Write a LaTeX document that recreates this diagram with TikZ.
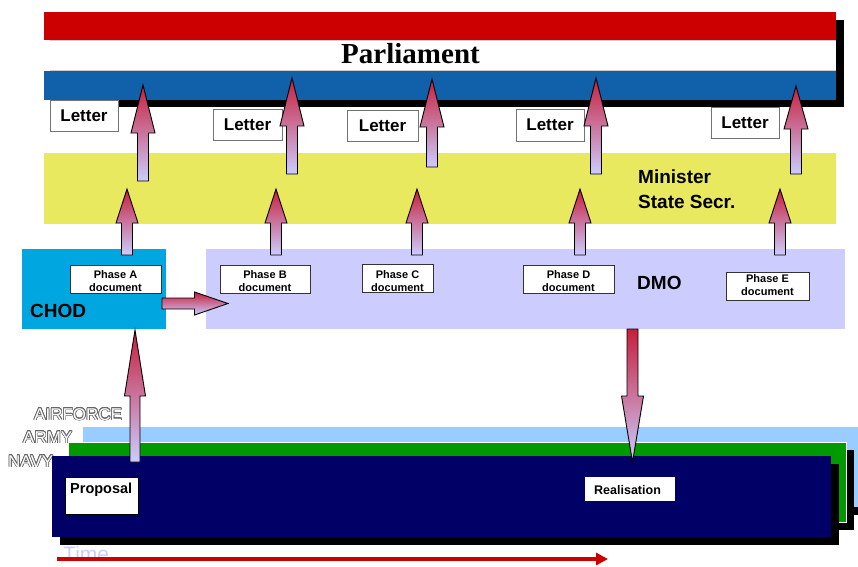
\documentclass[tikz,border=0pt]{standalone}
\usepackage{fontspec}
\setmainfont{Liberation Sans}
\newfontfamily\timesfont{Liberation Serif}
\usepackage{contour}
\contourlength{0.7pt}
\usetikzlibrary{arrows.meta}

\definecolor{parlred}{RGB}{204,0,0}
\definecolor{parlblue}{RGB}{16,96,170}
\definecolor{minyellow}{RGB}{233,233,96}
\definecolor{chodblue}{RGB}{0,166,224}
\definecolor{dmolav}{RGB}{204,204,255}
\definecolor{airblue}{RGB}{153,204,255}
\definecolor{armygreen}{RGB}{0,153,0}
\definecolor{navyblue}{RGB}{0,0,102}
\definecolor{arrowred}{RGB}{200,30,60}
\definecolor{arrowlav}{RGB}{204,204,255}
\definecolor{timered}{RGB}{204,0,0}

\newcommand\fs[1]{\fontsize{#1}{#1}\selectfont}

% vertical block arrow: x, tail y, head base y, tip y, shaft half width, head half width
\newcommand\vblockarrow[6]{%
  \shade[blockarrow] (#1-#5,#2) -- (#1-#5,#3) -- (#1-#6,#3) -- (#1,#4)
    -- (#1+#6,#3) -- (#1+#5,#3) -- (#1+#5,#2) -- cycle;}
% horizontal block arrow: y, tail x, head base x, tip x, shaft half width, head half width
\newcommand\hblockarrow[6]{%
  \shade[blockarrow] (#2,#1-#5) -- (#3,#1-#5) -- (#3,#1-#6) -- (#4,#1)
    -- (#3,#1+#6) -- (#3,#1+#5) -- (#2,#1+#5) -- cycle;}

\begin{document}
\begin{tikzpicture}[x=1pt,y=-1pt,
  blockarrow/.style={top color=arrowred, bottom color=arrowlav, draw=black,
    line width=0.9pt, line join=miter},
  letterbox/.style={draw=black!55, fill=white, line width=0.9pt, inner sep=0pt,
    font=\bfseries\fs{17}},
  phasebox/.style={draw=black!80, fill=white, line width=0.8pt, inner sep=0pt},
  phasetext/.style={font=\bfseries\fontsize{11}{13}\selectfont, align=center, inner sep=0pt},
  bigtext/.style={font=\bfseries\fs{19}, inner sep=0pt, anchor=base west},
  servicetext/.style={font=\fs{17}, text=white, inner sep=0pt, anchor=base west}]

\useasboundingbox (0,0) rectangle (858,566);
\fill[white] (0,0) rectangle (858,566);

% ---- Parliament band with drop shadow
\fill[black] (52,20) rectangle (844,107);
\fill[parlred] (44,12) rectangle (836,40);
\fill[white] (50,40) rectangle (836,71);
\draw[black!20, line width=0.7pt] (50,40.4) -- (836,40.4) (50,70.6) -- (836,70.6);
\fill[parlblue] (44,71) rectangle (836,99.5);
\node[font=\timesfont\bfseries\fs{29}, inner sep=0pt, anchor=base] (parl) at (410.5,63) {Parliament};

% ---- Letters to parliament
\node[letterbox, minimum width=68, minimum height=31] (l1) at (84,115.5) {Letter};
\node[letterbox, minimum width=69, minimum height=31] (l2) at (247.5,124.5) {Letter};
\node[letterbox, minimum width=71, minimum height=31] (l3) at (382.5,125.5) {Letter};
\node[letterbox, minimum width=68, minimum height=32] (l4) at (550,125) {Letter};
\node[letterbox, minimum width=68, minimum height=31] (l5) at (745,122.5) {Letter};

% ---- Minister band
\fill[minyellow] (44,153) rectangle (836,224);
\node[bigtext] (min1) at (638,183) {Minister};
\node[bigtext] (min2) at (638,208) {State Secr.};

% ---- CHOD and DMO
\fill[chodblue] (22,249) rectangle (166,328.5);
\fill[dmolav] (206,249) rectangle (845,328.5);
\node[bigtext] (chod) at (30,317) {CHOD};
\node[bigtext] (dmo) at (637,289) {DMO};

% ---- phase documents
\node[phasebox, minimum width=91, minimum height=28] (pa) at (115.5,279) {};
\node[phasebox, minimum width=90, minimum height=28] (pb) at (265,279) {};
\node[phasebox, minimum width=71, minimum height=28] (pc) at (397.5,278) {};
\node[phasebox, minimum width=91, minimum height=28] (pd) at (568.5,279) {};
\node[phasebox, minimum width=83, minimum height=28] (pe) at (767.5,286) {};
\node[phasetext] (ta) at (115.5,281.5) {Phase A\\document};
\node[phasetext] (tb) at (265,281.5) {Phase B\\document};
\node[phasetext] (tc) at (397.5,281) {Phase C\\document};
\node[phasetext] (td) at (568.5,281.5) {Phase D\\document};
\node[phasetext] (te) at (767.5,285.5) {Phase E\\document};

% ---- arrows from the phases to the minister
\vblockarrow{127}{255}{223}{189}{5.5}{11}
\vblockarrow{276}{255}{223}{189}{5.5}{11}
\vblockarrow{417}{255}{223}{189}{5.5}{11}
\vblockarrow{580}{255}{223}{189}{5.5}{11}
\vblockarrow{780}{255}{223}{189}{5.5}{11}

% ---- arrows from the minister to parliament
\vblockarrow{143}{181}{133}{85}{5.5}{12}
\vblockarrow{292}{174}{126}{78}{5.5}{12}
\vblockarrow{432}{167}{127}{79}{5.5}{12}
\vblockarrow{596}{174}{126}{78}{5.5}{12}
\vblockarrow{796}{174}{129}{86}{5.5}{12}

% ---- CHOD hands over to DMO
\hblockarrow{303.5}{162}{194.5}{228}{5.5}{11.5}

% ---- services
\node[servicetext] (airforce) at (34,420) {\contour{black!60}{AIRFORCE}};
\node[servicetext] (army) at (23,443) {\contour{black!60}{ARMY}};
\node[servicetext] (navy) at (8,467) {\contour{black!60}{NAVY}};

\fill[black] (91,435) rectangle (866,515);
\fill[airblue] (83,427) rectangle (866,507);
\fill[black] (76,450) rectangle (853.5,529.5);
\filldraw[fill=armygreen, draw=white, line width=0.8pt] (68,442) rectangle (846,522);
\fill[black] (60,464) rectangle (839,544.5);
\fill[navyblue] (52,456) rectangle (831,537);

% ---- proposal up, realisation down
\vblockarrow{135}{462}{396}{330}{5}{10.5}
\vblockarrow{632.5}{329}{396}{462}{5.5}{11}

\node[draw=black, fill=white, line width=0.9pt, minimum width=73, minimum height=37,
  inner sep=0pt] (prop) at (101.5,495.5) {};
\node[font=\bfseries\fs{14.5}, inner sep=0pt, anchor=base west] (proptext) at (70,493) {Proposal};
\node[fill=white, minimum width=90, minimum height=24, inner sep=0pt] (real) at (630,489) {};
\node[font=\bfseries\fs{12.5}, inner sep=0pt, anchor=base west] (realtext) at (594,494) {Realisation};

% ---- time axis
\coordinate (tstart) at (57,559);
\coordinate (tend) at (608,559);
\node[font=\fs{21}, text=dmolav, inner sep=0pt, anchor=base west] (time) at (63,561) {Time};
\draw[timered, line width=3.5pt, -{Triangle[length=12pt,width=12pt]}] (tstart) -- (tend);

\end{tikzpicture}
\end{document}
